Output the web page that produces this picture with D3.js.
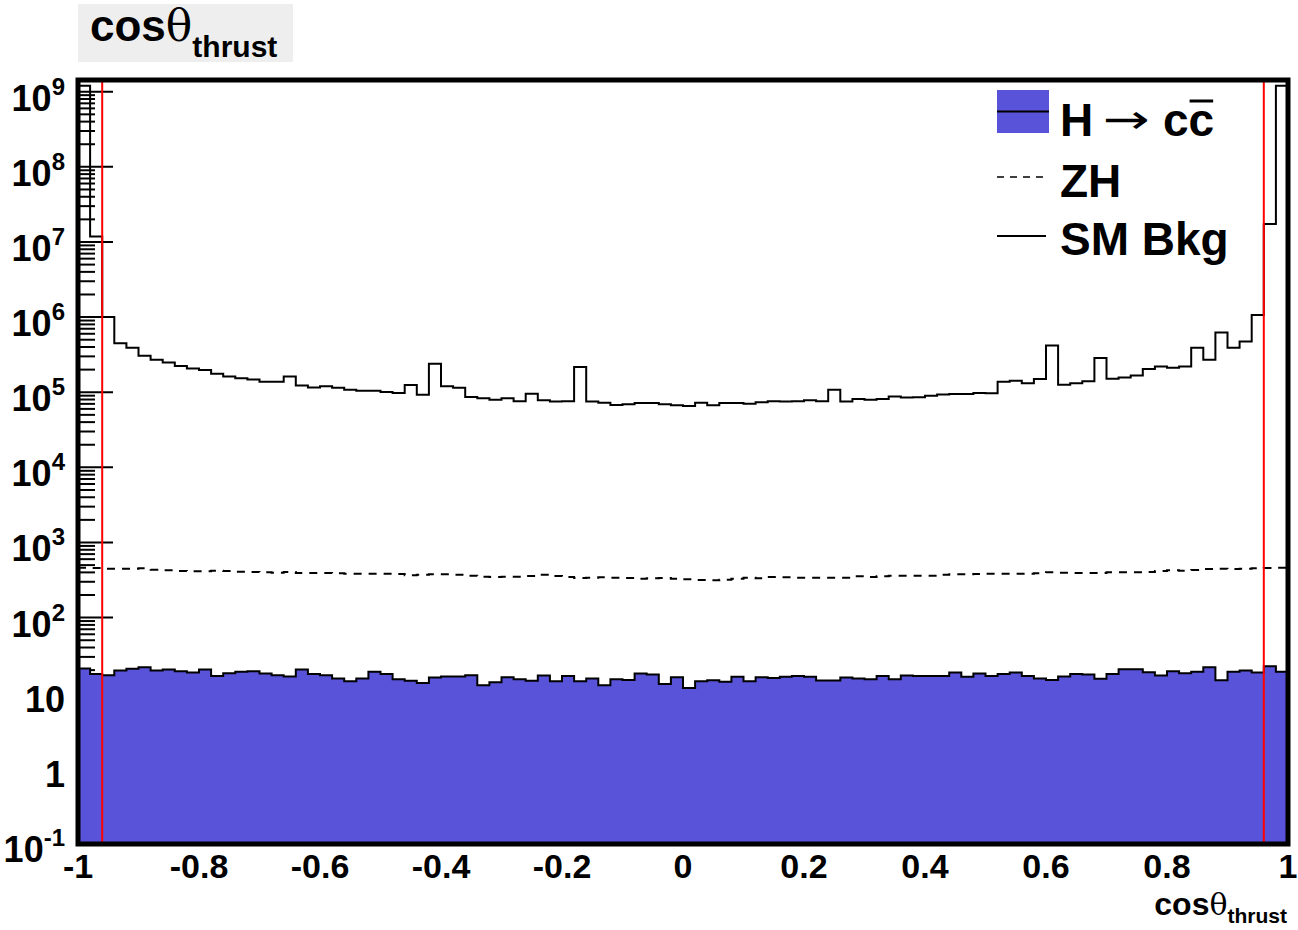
<!DOCTYPE html>
<html>
<head>
<meta charset="utf-8">
<script src="https://cdn.jsdelivr.net/npm/d3@7"></script>
<style>
body { margin: 0; background: #fff; }
svg text { font-family: "Liberation Sans", Arial, Helvetica, sans-serif; font-weight: bold; fill: #000; }
</style>
</head>
<body>
<div id="chart"></div>
<script>

// histogram binning: 100 bins over cos(theta_thrust) in [-1, 1]
var binLow = -1, binHigh = 1, nBins = 100;

// SM background (solid line)
var bkgValues = [
    1.2e9, 1.18e7, 1.0e6, 4.5e5, 3.9e5, 3.06e5, 2.7e5, 2.48e5, 2.24e5, 2.07e5,
    1.97e5, 1.76e5, 1.62e5, 1.53e5, 1.48e5, 1.38e5, 1.38e5, 1.62e5, 1.23e5, 1.16e5,
    1.2e5, 1.15e5, 1.08e5, 1.05e5, 1.05e5, 1.01e5, 9.8e4, 1.25e5, 9.25e4, 2.4e5,
    1.2e5, 1.15e5, 8.65e4, 8.3e4, 7.95e4, 8.3e4, 7.6e4, 9.55e4, 7.8e4, 7.5e4,
    7.6e4, 2.16e5, 7.5e4, 7.26e4, 6.76e4, 6.9e4, 7.2e4, 7.2e4, 6.9e4, 6.7e4,
    6.58e4, 7.26e4, 6.7e4, 7.2e4, 7.2e4, 7.0e4, 7.35e4, 7.6e4, 7.5e4, 7.6e4,
    7.8e4, 7.6e4, 1.08e5, 7.55e4, 8.1e4, 7.95e4, 8.1e4, 8.8e4, 8.5e4, 8.6e4,
    9.0e4, 9.3e4, 9.5e4, 9.5e4, 9.8e4, 9.7e4, 1.38e5, 1.42e5, 1.32e5, 1.5e5,
    4.2e5, 1.26e5, 1.32e5, 1.4e5, 2.85e5, 1.51e5, 1.57e5, 1.67e5, 2.04e5, 2.2e5,
    2.12e5, 2.2e5, 3.9e5, 2.7e5, 6.25e5, 3.9e5, 4.75e5, 1.07e6, 1.74e7, 1.2e9
];

// ZH (dashed line)
var zhValues = [
    462, 457, 448, 448, 448, 453, 435, 426, 418, 413,
    413, 422, 418, 409, 405, 401, 397, 405, 393, 393,
    393, 389, 385, 385, 385, 385, 381, 365, 373, 377,
    377, 373, 362, 351, 347, 351, 351, 358, 373, 358,
    347, 337, 340, 344, 340, 337, 330, 333, 337, 330,
    323, 317, 314, 320, 330, 340, 333, 347, 344, 340,
    340, 340, 340, 340, 355, 347, 355, 362, 362, 362,
    362, 373, 377, 377, 381, 385, 385, 385, 385, 389,
    401, 397, 393, 393, 393, 401, 401, 401, 405, 418,
    426, 422, 430, 444, 448, 444, 448, 453, 457, 462
];

// H -> c cbar signal (filled)
var hccValues = [
    21.0, 17.8, 17.1, 19.7, 20.8, 21.9, 19.7, 20.4, 19.3, 18.6,
    20.4, 16.7, 18.2, 19.0, 19.3, 18.0, 17.1, 16.4, 20.4, 17.8,
    17.1, 15.5, 14.2, 15.5, 19.1, 17.8, 15.1, 14.4, 13.5, 15.9,
    16.4, 16.4, 17.1, 12.6, 13.8, 16.1, 15.1, 14.4, 16.9, 14.2,
    16.7, 14.2, 15.5, 12.6, 15.1, 14.8, 18.0, 17.5, 13.1, 16.1,
    11.6, 14.2, 14.7, 14.0, 16.3, 14.2, 16.1, 15.7, 16.3, 16.7,
    16.3, 14.6, 14.6, 15.9, 15.5, 15.1, 16.7, 15.1, 16.9, 16.7,
    16.7, 16.7, 18.6, 16.3, 18.0, 16.7, 17.8, 18.6, 16.7, 15.5,
    14.8, 16.4, 17.8, 17.5, 15.3, 17.8, 20.6, 20.6, 18.8, 16.9,
    19.3, 18.2, 19.0, 21.9, 14.7, 19.1, 19.7, 18.6, 22.5, 19.1
];

var xTickValues = [-1, -0.8, -0.6, -0.4, -0.2, 0, 0.2, 0.4, 0.6, 0.8, 1];
var xTickLabels = ["-1", "-0.8", "-0.6", "-0.4", "-0.2", "0", "0.2", "0.4", "0.6", "0.8", "1"];
var yDecades = [-1, 0, 1, 2, 3, 4, 5, 6, 7, 8, 9];
var cutValues = [-0.96, 0.96];

var signalColor = "#5953d9";

var width = 1298, height = 930;
var margin = { top: 80, right: 10, bottom: 86, left: 78 };
var plotW = width - margin.left - margin.right,
    plotH = height - margin.top - margin.bottom;

var svg = d3.select("#chart").append("svg")
    .attr("width", width)
    .attr("height", height);

var x = d3.scaleLinear()
    .domain([binLow, binHigh])
    .range([margin.left, margin.left + plotW]);

var y = d3.scaleLog()
    .domain([0.1, Math.pow(10, 9.156)])
    .range([margin.top + plotH - 1, margin.top]);

var binWidth = (binHigh - binLow) / nBins;

// turn a list of bin contents into step points (extra point closes the last bin)
function toSteps(values) {
    var pts = values.map(function(v, i) { return { x: binLow + i * binWidth, v: v }; });
    pts.push({ x: binHigh, v: values[values.length - 1] });
    return pts;
}

svg.append("defs").append("clipPath")
    .attr("id", "plotclip")
    .append("rect")
    .attr("x", margin.left)
    .attr("y", margin.top)
    .attr("width", plotW)
    .attr("height", plotH);

// y axis ticks (ROOT style, pointing inward)
var yTicks = svg.append("g").attr("class", "y-ticks");
yDecades.forEach(function(k) {
    var major = Math.pow(10, k);
    yTicks.append("line")
        .attr("x1", margin.left).attr("x2", margin.left + 35)
        .attr("y1", y(major)).attr("y2", y(major))
        .attr("stroke", "#000").attr("stroke-width", 2);
    for (var m = 2; m <= 9; m++) {
        var v = m * major;
        if (v > y.domain()[1]) break;
        yTicks.append("line")
            .attr("x1", margin.left).attr("x2", margin.left + 17)
            .attr("y1", y(v)).attr("y2", y(v))
            .attr("stroke", "#000").attr("stroke-width", 2);
    }
});

// x axis ticks (hidden below the fill, as in the original)
svg.append("g").selectAll("line")
    .data(xTickValues)
    .join("line")
    .attr("x1", d => x(d)).attr("x2", d => x(d))
    .attr("y1", margin.top + plotH).attr("y2", margin.top + plotH - 23)
    .attr("stroke", "#000").attr("stroke-width", 2);

var hist = svg.append("g").attr("clip-path", "url(#plotclip)");

// signal: filled histogram with black outline
var area = d3.area()
    .curve(d3.curveStepAfter)
    .x(d => x(d.x))
    .y0(margin.top + plotH)
    .y1(d => y(d.v));

var line = d3.line()
    .curve(d3.curveStepAfter)
    .x(d => x(d.x))
    .y(d => y(d.v));

hist.append("path")
    .datum(toSteps(hccValues))
    .attr("fill", signalColor)
    .attr("d", area);

hist.append("path")
    .datum(toSteps(hccValues))
    .attr("fill", "none")
    .attr("stroke", "#000")
    .attr("stroke-width", 2)
    .attr("d", line);

hist.append("path")
    .datum(toSteps(zhValues))
    .attr("fill", "none")
    .attr("stroke", "#000")
    .attr("stroke-width", 2)
    .attr("stroke-dasharray", "8,7")
    .attr("d", line);

hist.append("path")
    .datum(toSteps(bkgValues))
    .attr("fill", "none")
    .attr("stroke", "#000")
    .attr("stroke-width", 2)
    .attr("d", line);

// cut lines
svg.append("g").selectAll("line")
    .data(cutValues)
    .join("line")
    .attr("x1", d => x(d)).attr("x2", d => x(d))
    .attr("y1", margin.top).attr("y2", margin.top + plotH)
    .attr("stroke", "#ff0000").attr("stroke-width", 2);

// frame
svg.append("rect")
    .attr("x", margin.left).attr("y", margin.top)
    .attr("width", plotW).attr("height", plotH)
    .attr("fill", "none")
    .attr("stroke", "#000")
    .attr("stroke-width", 5);

// y labels
var yLabels = svg.append("g").attr("class", "y-labels");
yDecades.forEach(function(k) {
    var ty = y(Math.pow(10, k));
    var t = yLabels.append("text")
        .attr("x", 65)
        .attr("y", ty + 19)
        .attr("text-anchor", "end")
        .style("font-size", "36px");
    if (k === 0) {
        t.text("1");
    } else if (k === 1) {
        t.text("10");
    } else {
        t.append("tspan").text("10");
        t.append("tspan")
            .attr("dy", -16)
            .style("font-size", "24px")
            .text(k);
    }
});

// x labels
svg.append("g").selectAll("text")
    .data(xTickValues)
    .join("text")
    .attr("x", d => x(d))
    .attr("y", 878)
    .attr("text-anchor", "middle")
    .style("font-size", "34px")
    .text((d, i) => xTickLabels[i]);

// x axis title
var xTitle = svg.append("text")
    .attr("x", 1287)
    .attr("y", 915)
    .attr("text-anchor", "end")
    .style("font-size", "32px");
xTitle.append("tspan").text("cos");
xTitle.append("tspan").style("font-weight", "normal").style("font-family", "DejaVu Serif, serif").style("font-size", "30px").text("θ");
xTitle.append("tspan").attr("dy", 8).style("font-size", "21px").text("thrust");

// pad title
svg.append("rect")
    .attr("x", 78).attr("y", 4)
    .attr("width", 215).attr("height", 58)
    .attr("fill", "#eeeeee");

var title = svg.append("text")
    .attr("x", 90)
    .attr("y", 41)
    .style("font-size", "44px");
title.append("tspan").text("cos");
title.append("tspan").style("font-weight", "normal").style("font-family", "DejaVu Serif, serif").text("θ");
title.append("tspan").attr("dy", 16).style("font-size", "30px").text("thrust");

// legend
var legend = svg.append("g").attr("class", "legend");
legend.append("rect")
    .attr("x", 997).attr("y", 90)
    .attr("width", 52).attr("height", 43)
    .attr("fill", signalColor);
legend.append("line")
    .attr("x1", 997).attr("x2", 1049)
    .attr("y1", 111.5).attr("y2", 111.5)
    .attr("stroke", "#000").attr("stroke-width", 2);
legend.append("line")
    .attr("x1", 997).attr("x2", 1046)
    .attr("y1", 177).attr("y2", 177)
    .attr("stroke", "#000").attr("stroke-width", 1.6)
    .attr("stroke-dasharray", "7,6");
legend.append("line")
    .attr("x1", 997).attr("x2", 1046)
    .attr("y1", 236).attr("y2", 236)
    .attr("stroke", "#000").attr("stroke-width", 2);

// H -> c cbar label, built from pieces so the long arrow fits
legend.append("text")
    .attr("x", 1060).attr("y", 136)
    .style("font-size", "46px")
    .text("H");
legend.append("text")
    .attr("x", 1103).attr("y", 133)
    .attr("textLength", 47)
    .attr("lengthAdjust", "spacingAndGlyphs")
    .style("font-weight", "normal")
    .style("font-family", "DejaVu Sans, sans-serif")
    .style("font-size", "40px")
    .text("→");
var ccLabel = legend.append("text")
    .attr("x", 1163).attr("y", 136)
    .style("font-size", "46px")
    .text("cc");

// overline on the second c
var node = ccLabel.node();
var last = node.getExtentOfChar(1);
legend.append("line")
    .attr("x1", last.x + 1).attr("x2", last.x + last.width - 1)
    .attr("y1", 101).attr("y2", 101)
    .attr("stroke", "#000").attr("stroke-width", 3);

legend.append("text")
    .attr("x", 1060).attr("y", 197)
    .style("font-size", "46px")
    .text("ZH");

legend.append("text")
    .attr("x", 1060).attr("y", 255)
    .style("font-size", "46px")
    .text("SM Bkg");

</script>
</body>
</html>
